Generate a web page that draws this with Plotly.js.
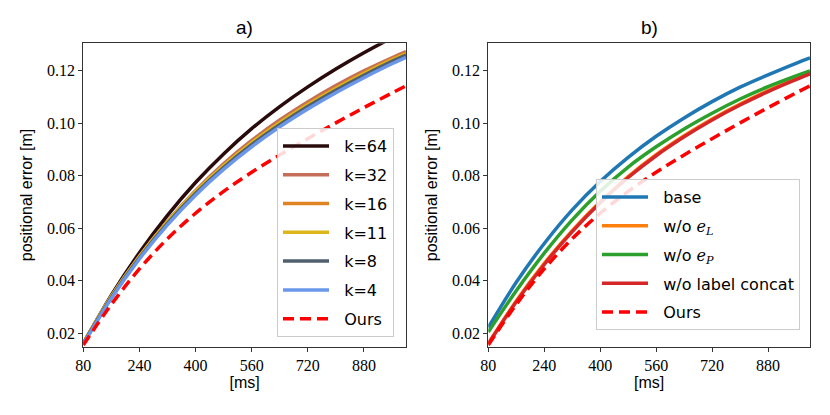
<!DOCTYPE html>
<html>
<head>
<meta charset="utf-8">
<script src="https://cdn.plot.ly/plotly-3.0.1.min.js"></script>
<style>html,body{margin:0;padding:0;background:#fff;}#chart{width:830px;height:415px;}</style>
</head>
<body>
<div id="chart"></div>
<script>
// time steps [ms]
const timeMs = [80, 160, 240, 320, 400, 480, 560, 640, 720, 800, 880, 960, 1000];

// panel a) positional error [m]
const k64  = [0.0160, 0.0345, 0.0507, 0.0649, 0.0774, 0.0883, 0.0979, 0.1063, 0.1138, 0.1206, 0.1268, 0.1325, 0.1352];
const k32  = [0.0162, 0.0340, 0.0493, 0.0626, 0.0743, 0.0845, 0.0934, 0.1012, 0.1081, 0.1143, 0.1199, 0.1249, 0.1272];
const k16  = [0.0162, 0.0340, 0.0492, 0.0624, 0.0739, 0.0839, 0.0927, 0.1004, 0.1073, 0.1135, 0.1192, 0.1244, 0.1267];
const k11  = [0.0162, 0.0340, 0.0492, 0.0624, 0.0739, 0.0838, 0.0925, 0.1001, 0.1069, 0.1131, 0.1188, 0.1240, 0.1263];
const k8   = [0.0160, 0.0336, 0.0487, 0.0618, 0.0732, 0.0831, 0.0918, 0.0994, 0.1063, 0.1125, 0.1182, 0.1235, 0.1259];
const k4   = [0.0158, 0.0333, 0.0483, 0.0613, 0.0726, 0.0824, 0.0910, 0.0986, 0.1054, 0.1116, 0.1173, 0.1226, 0.1251];
const ours = [0.0155, 0.0310, 0.0445, 0.0560, 0.0657, 0.0740, 0.0813, 0.0879, 0.0941, 0.1001, 0.1059, 0.1115, 0.1142];

// panel b) ablations
const base      = [0.0222, 0.0394, 0.0542, 0.0670, 0.0778, 0.0870, 0.0950, 0.1020, 0.1082, 0.1137, 0.1184, 0.1228, 0.1248];
const woEL      = [0.0160, 0.0323, 0.0466, 0.0591, 0.0701, 0.0797, 0.0880, 0.0952, 0.1016, 0.1073, 0.1124, 0.1170, 0.1192];
const woEP      = [0.0205, 0.0362, 0.0505, 0.0632, 0.0741, 0.0833, 0.0910, 0.0978, 0.1038, 0.1092, 0.1139, 0.1180, 0.1199];
const woConcat  = [0.0160, 0.0320, 0.0462, 0.0587, 0.0697, 0.0793, 0.0876, 0.0948, 0.1012, 0.1069, 0.1120, 0.1166, 0.1188];

const xTicks = [80, 240, 400, 560, 720, 880];
const yTicks = [0.02, 0.04, 0.06, 0.08, 0.10, 0.12];
const yTickText = ['0.02', '0.04', '0.06', '0.08', '0.10', '0.12'];

const namesA = ['k=64', 'k=32', 'k=16', 'k=11', 'k=8', 'k=4', 'Ours'];
const seriesA = [k64, k32, k16, k11, k8, k4, ours];
const colorsA = ['#2a0b0b', '#c46e5a', '#de8423', '#dcb71c', '#4f5f6e', '#6a97ea', '#ff0000'];

const mathFont = "font-family:'DejaVu Serif'";
const namesB = ['base',
  "w/o <span style=\"" + mathFont + "\"><i>e</i><sub><i>L</i></sub></span>",
  "w/o <span style=\"" + mathFont + "\"><i>e</i><sub><i>P</i></sub></span>",
  'w/o label concat', 'Ours'];
const seriesB = [base, woEL, woEP, woConcat, ours];
const colorsB = ['#1f77b4', '#ff7f0e', '#2ca02c', '#d62728', '#ff0000'];

const pad = '\u00a0\u00a0';
const traces = [];
seriesA.forEach((s, i) => {
  const isOurs = namesA[i] === 'Ours';
  traces.push({
    x: timeMs, y: s, type: 'scatter', mode: 'lines', name: pad + namesA[i],
    xaxis: 'x', yaxis: 'y', legend: 'legend', legendgroup: 'a' + i,
    line: {color: colorsA[i], width: 3.5, shape: 'spline', smoothing: 1,
           dash: isOurs ? '11px,6px' : 'solid'}
  });
});
seriesB.forEach((s, i) => {
  const isOurs = i === seriesB.length - 1;
  traces.push({
    x: timeMs, y: s, type: 'scatter', mode: 'lines', name: pad + namesB[i],
    xaxis: 'x2', yaxis: 'y2', legend: 'legend2', legendgroup: 'b' + i,
    line: {color: colorsB[i], width: 3.5, shape: 'spline', smoothing: 1,
           dash: isOurs ? '11px,6px' : 'solid'}
  });
});

const tickFont = {family: 'Liberation Serif', size: 16, color: '#000'};
const labFont = {family: 'Liberation Sans', size: 16, color: '#000'};

function xax(domain, anchor) {
  return {domain: domain, anchor: anchor, range: [80, 1000], tickvals: xTicks,
    ticktext: xTicks.map(String), ticks: 'outside', ticklen: 4, tickcolor: '#333',
    showline: true, linecolor: '#333', linewidth: 1, mirror: true, showgrid: false,
    zeroline: false, tickfont: tickFont,
    title: {text: '[ms]', font: labFont, standoff: 3}};
}
function yax(domain, anchor) {
  return {domain: domain, anchor: anchor, range: [0.0149, 0.1304], tickvals: yTicks,
    ticktext: yTickText, ticks: 'outside', ticklen: 4, tickcolor: '#333',
    showline: true, linecolor: '#333', linewidth: 1, mirror: true, showgrid: false,
    zeroline: false, tickfont: tickFont,
    title: {text: 'positional error [m]', font: labFont, standoff: 10}};
}

const yDom = [1 - 346.7 / 415, 1 - 43.3 / 415];
const legendCommon = {
  bgcolor: 'rgba(255,255,255,0.85)', bordercolor: '#cccccc', borderwidth: 1,
  font: {family: 'DejaVu Sans', size: 16, color: '#000'},
  xanchor: 'right', yanchor: 'bottom', traceorder: 'grouped', tracegroupgap: 5,
  itemwidth: 46
};

const layout = {
  width: 830, height: 415,
  margin: {l: 0, r: 0, t: 0, b: 0},
  paper_bgcolor: '#fff', plot_bgcolor: '#fff',
  showlegend: true,
  xaxis: xax([83.3 / 830, 406 / 830], 'y'),
  yaxis: yax(yDom, 'x'),
  xaxis2: xax([488.3 / 830, 810 / 830], 'y2'),
  yaxis2: yax(yDom, 'x2'),
  legend: Object.assign({}, legendCommon, {x: 394 / 830, y: 1 - 337 / 415}),
  legend2: Object.assign({}, legendCommon, {x: 800 / 830, y: 1 - 330 / 415}),
  annotations: [
    {text: 'a)', xref: 'paper', yref: 'paper', x: (83.3 + 406) / 2 / 830, y: 1 - 28 / 415,
     xanchor: 'center', yanchor: 'middle',
     showarrow: false, font: {family: 'Liberation Sans', size: 19, color: '#000'}},
    {text: 'b)', xref: 'paper', yref: 'paper', x: (488.3 + 810) / 2 / 830, y: 1 - 28 / 415,
     xanchor: 'center', yanchor: 'middle',
     showarrow: false, font: {family: 'Liberation Sans', size: 19, color: '#000'}}
  ]
};

Plotly.newPlot('chart', traces, layout, {displayModeBar: false, staticPlot: true});
</script>
</body>
</html>
